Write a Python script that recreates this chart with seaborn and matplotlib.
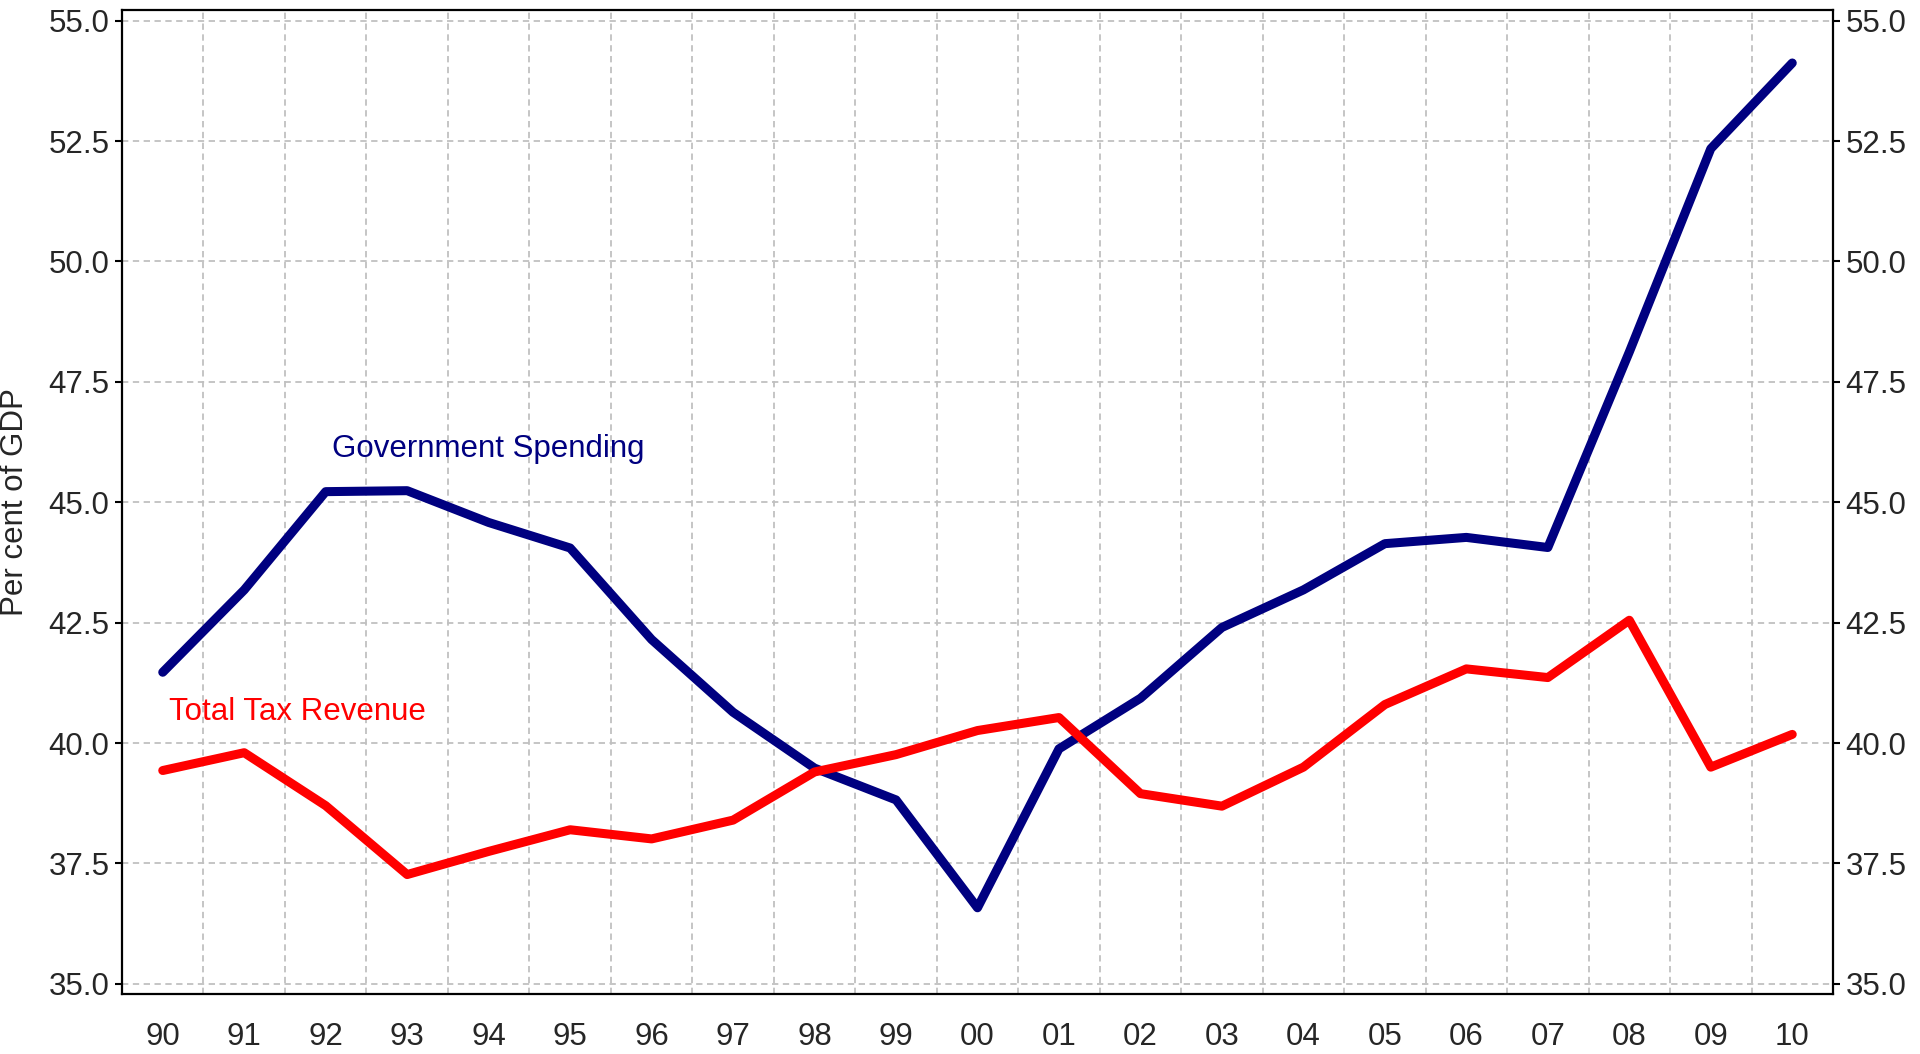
import numpy as np
import pandas as pd
import seaborn as sns
import matplotlib.pyplot as plt

# data (per cent of GDP)
years = ["90", "91", "92", "93", "94", "95", "96", "97", "98", "99", "00",
         "01", "02", "03", "04", "05", "06", "07", "08", "09", "10"]
spending = [41.47, 43.18, 45.22, 45.24, 44.58, 44.05, 42.15, 40.64, 39.48, 38.82,
            36.58, 39.88, 40.93, 42.40, 43.18, 44.14, 44.27, 44.06, 48.12, 52.34, 54.12]
revenue = [39.43, 39.80, 38.70, 37.27, 37.75, 38.20, 38.01, 38.40, 39.40, 39.76,
           40.26, 40.53, 38.95, 38.69, 39.50, 40.80, 41.54, 41.36, 42.55, 39.50, 40.18]
y_ticks = [35.0, 37.5, 40.0, 42.5, 45.0, 47.5, 50.0, 52.5, 55.0]

NAVY = "#000080"
RED = "#FF0000"
GRID = "#C0C0C0"
FS = 22.5

sns.set_style("white")
plt.rcParams["font.family"] = ["Liberation Sans", "DejaVu Sans"]

df = pd.DataFrame({"pos": np.arange(len(years)), "spending": spending, "revenue": revenue})

fig = plt.figure(figsize=(19.2, 10.54), dpi=100)
ax = fig.add_axes([122 / 1920, 1 - 994 / 1054, (1833 - 122) / 1920, (994 - 10) / 1054])

sns.lineplot(data=df, x="pos", y="spending", color=NAVY, linewidth=6.5,
             solid_capstyle="round", ax=ax, zorder=3)
sns.lineplot(data=df, x="pos", y="revenue", color=RED, linewidth=6.5,
             solid_capstyle="round", ax=ax, zorder=3)

ylim = (34.79, 55.22)
ax.set_xlim(-0.5, len(years) - 0.5)
ax.set_ylim(*ylim)

# category labels in the middle, ticks + grid at the boundaries
ax.set_xticks(df["pos"], labels=years)
ax.set_xticks(np.arange(-0.5, len(years), 1.0), minor=True)
ax.tick_params(axis="x", which="major", length=0, pad=20, labelsize=FS)
ax.tick_params(axis="x", which="minor", length=10, width=1.5, direction="out", color="black")
ax.set_yticks(y_ticks, labels=[f"{v:.1f}" for v in y_ticks])
ax.tick_params(axis="y", length=5, width=1.5, direction="out", labelsize=FS, pad=4, color="black")

dash = (0, (3.5, 2.5))
ax.grid(False)
ax.grid(which="minor", axis="x", color=GRID, linestyle=dash, linewidth=1.3)
ax.grid(which="major", axis="y", color=GRID, linestyle=dash, linewidth=1.3)
ax.set_axisbelow(True)

ax.set_xlabel("")
ax.set_ylabel("Per cent of GDP", fontsize=FS)
ax.yaxis.set_label_coords(-0.054, 0.5)

for s in ax.spines.values():
    s.set_visible(True)
    s.set_color("black")
    s.set_linewidth(1.6)

# mirrored scale on the right
ax2 = ax.twinx()
ax2.set_ylim(*ylim)
ax2.set_yticks(y_ticks, labels=[f"{v:.1f}" for v in y_ticks])
ax2.tick_params(axis="y", length=5, width=1.5, direction="out", labelsize=FS, pad=4, color="black")
ax2.grid(False)
for s in ax2.spines.values():
    s.set_visible(False)

ax.text(2.08, 46.1, "Government Spending", color=NAVY, fontsize=FS, va="center", ha="left")
ax.text(0.08, 40.64, "Total Tax Revenue", color=RED, fontsize=FS, va="center", ha="left")

fig.savefig("out.png", dpi=100)
